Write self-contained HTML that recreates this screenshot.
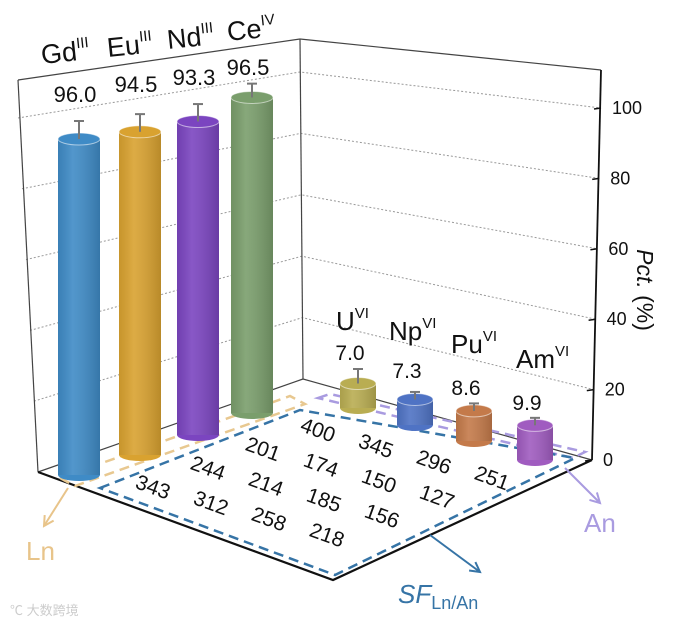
<!DOCTYPE html>
<html><head><meta charset="utf-8">
<style>
html,body{margin:0;padding:0;background:#fff;}
svg{display:block;font-family:"Liberation Sans",Arial,sans-serif;}
</style></head>
<body>
<svg id="chart" width="676" height="628" viewBox="0 0 676 628" xmlns="http://www.w3.org/2000/svg">
<defs>
<linearGradient id="shade" x1="0" x2="1" y1="0" y2="0">
<stop offset="0" stop-color="#000" stop-opacity="0.08"/>
<stop offset="0.35" stop-color="#fff" stop-opacity="0.10"/>
<stop offset="1" stop-color="#000" stop-opacity="0.15"/>
</linearGradient>
</defs>
<g id="walls"></g>
<g id="floor"></g>
<g id="bars"></g>
<g id="labels"></g>
</svg>
<script>
const lnNames = ["Gd","Eu","Nd","Ce"];
const lnOx = ["III","III","III","IV"];
const lnValues = [96.0, 94.5, 93.3, 96.5];
const lnErrors = [4, 4, 4, 3];
const anNames = ["U","Np","Pu","Am"];
const anOx = ["VI","VI","VI","VI"];
const anValues = [7.0, 7.3, 8.6, 9.9];
const anErrors = [3, 1, 1, 1];
const sfValues = [
  [400, 345, 296, 251],
  [201, 174, 150, 127],
  [244, 214, 185, 156],
  [343, 312, 258, 218]
];
const yTicks = [0, 20, 40, 60, 80, 100];

const NS = "http://www.w3.org/2000/svg";
function mk(tag, attrs, parent){ const e=document.createElementNS(NS,tag); for(const k in attrs) e.setAttribute(k,attrs[k]); parent.appendChild(e); return e; }

const leftEdge = v => ({x: 38 - (20*v/100), y: 472 - 3.54*v});
const backEdge = v => ({x: 303 - 3*v/100, y: 379 - 3.07*v});
const rightEdge = v => ({x: 592 + 9*v/100, y: 460 - 3.52*v});

const walls = document.getElementById('walls');
[20,40,60,80,100].forEach(v=>{
  const a=leftEdge(v), b=backEdge(v), c=rightEdge(v);
  const l=mk('polyline',{points:`${a.x},${a.y} ${b.x},${b.y} ${c.x},${c.y}`,fill:'none',stroke:'#999','stroke-width':1,'stroke-dasharray':'2,2'},walls);
  
  
});
const frame = [[18,80,38,472],[18,80,300,39],[300,39,303,379],[300,39,601,70],[38,472,303,379],[303,379,592,460]];
frame.forEach(f=>{ mk('line',{x1:f[0],y1:f[1],x2:f[2],y2:f[3],stroke:'#444','stroke-width':1.2},walls); });
const yAxis=mk('line',{x1:601,y1:70,x2:592,y2:460,stroke:'#111','stroke-width':1.8},walls);


mk('polyline',{points:'38,472 333,580 592,460',fill:'none',stroke:'#111','stroke-width':2.2},walls);
yTicks.forEach(v=>{
  const p=rightEdge(v);
  mk('line',{x1:p.x-7,y1:p.y+1,x2:p.x,y2:p.y,stroke:'#111','stroke-width':1.5},walls);
  const t=mk('text',{x:p.x+11,y:p.y+6,'font-size':18,fill:'#111'},walls);
  t.textContent=v;
  
  
});
const yt=mk('text',{transform:'translate(637,290) rotate(90)','font-size':23,'text-anchor':'middle',fill:'#111'},walls);
yt.innerHTML='<tspan font-style="italic">Pct.</tspan> (%)';



const floor=document.getElementById('floor');
mk('polygon',{points:'60,478 290,396 305,404 75,486',fill:'none',stroke:'#e8c890','stroke-width':2.5,'stroke-dasharray':'10,6'},floor);
mk('polygon',{points:'318,398 330,394 585,452 573,458',fill:'none',stroke:'#a99be0','stroke-width':2.5,'stroke-dasharray':'10,6'},floor);
mk('polygon',{points:'100,488 300,410 575,458 335,575',fill:'none',stroke:'#3674a6','stroke-width':2.5,'stroke-dasharray':'10,6'},floor);
function arrow(x1,y1,x2,y2,col,name){
  const g=mk('g',{},floor);
  
  
  mk('line',{x1,y1,x2,y2,stroke:col,'stroke-width':2},g);
  const a=Math.atan2(y2-y1,x2-x1), s=11;
  const p1=[x2-s*Math.cos(a-0.5),y2-s*Math.sin(a-0.5)], p2=[x2-s*Math.cos(a+0.5),y2-s*Math.sin(a+0.5)];
  mk('polyline',{points:`${p1} ${x2},${y2} ${p2}`,fill:'none',stroke:col,'stroke-width':2},g);
}
arrow(68,488,44,526,'#e8c48a','ln-arrow');
arrow(565,468,600,503,'#a99be0','an-arrow');
arrow(430,535,480,572,'#3674a6','sf-arrow');
const lnL=mk('text',{x:26,y:560,'font-size':26,fill:'#e8c48a'},floor); lnL.textContent='Ln';
 
const anL=mk('text',{x:584,y:532,'font-size':26,fill:'#a99be0'},floor); anL.textContent='An';
 
const sfL=mk('text',{x:398,y:603,'font-size':26,fill:'#3674a6'},floor);
sfL.innerHTML='<tspan font-style="italic">SF</tspan><tspan font-size="18" dy="6">Ln/An</tspan>';
 
const sfOrigin={x:318,y:430}, colStep={x:58,y:16}, rowStep={x:-55,y:19};
sfValues.forEach((row,r)=>row.forEach((v,c)=>{
  const x=sfOrigin.x+c*colStep.x+r*rowStep.x, y=sfOrigin.y+c*colStep.y+r*rowStep.y;
  const t=mk('text',{x,y:y+7,'font-size':21,'text-anchor':'middle',fill:'#111',transform:`rotate(20 ${x} ${y})`},floor);
  t.textContent=v;
  
  
}));

const bars=document.getElementById('bars');
function cyl(cx,base,rx,ry,k,v,err,col,name){
  const g=mk('g',{},bars);
  
  
  const top=base-v*k;
  mk('rect',{x:cx-rx,y:top,width:2*rx,height:base-top,fill:col},g);
  mk('ellipse',{cx,cy:base,rx,ry,fill:col},g);
  mk('rect',{x:cx-rx,y:top,width:2*rx,height:base-top,fill:'url(#shade)'},g);
  mk('ellipse',{cx,cy:top,rx,ry,fill:col,stroke:'#fff','stroke-opacity':0.55,'stroke-width':1},g);
  const et=top-err*k-4;
  mk('line',{x1:cx,y1:top,x2:cx,y2:et,stroke:'#777','stroke-width':2},g);
  mk('line',{x1:cx-5,y1:et,x2:cx+5,y2:et,stroke:'#777','stroke-width':2},g);
  return top;
}
const lnCols=['#3f8bc6','#d9a230','#7b45c0','#7a9e6c'];
const lnCx=[79,140,198,252], lnBase=[475,455,435,413], lnK=[3.5,3.42,3.36,3.27];
lnValues.forEach((v,i)=>cyl(lnCx[i],lnBase[i],21,6,lnK[i],v,lnErrors[i],lnCols[i],'bar-'+lnNames[i].toLowerCase()));
const anCols=['#b9ad52','#4f73c4','#c47a4a','#a05cc0'];
const anCx=[358,415,474,535], anBase=[408,425,441,460], anK=[3.5,3.5,3.5,3.5];
anValues.forEach((v,i)=>cyl(anCx[i],anBase[i],18,6,anK[i],v,anErrors[i],anCols[i],'bar-'+anNames[i].toLowerCase()));

const lab=document.getElementById('labels');
const lnLabelX=[42,108,168,228], lnLabelY=[64,57,49,41];
lnNames.forEach((n,i)=>{
  const t=mk('text',{x:lnLabelX[i],y:lnLabelY[i],'font-size':27,fill:'#111',transform:`rotate(-6 ${lnLabelX[i]} ${lnLabelY[i]})`},lab);
  t.innerHTML=n+'<tspan font-size="15" dy="-12">'+lnOx[i]+'</tspan>';
  
  
});
const lnValY=[102,92,85,75];
lnValues.forEach((v,i)=>{
  const t=mk('text',{x:lnCx[i]-4,y:lnValY[i],'font-size':22,'text-anchor':'middle',fill:'#111'},lab);
  t.textContent=v.toFixed(1);
  
  
});
const anLabelX=[336,389,451,516], anLabelY=[330,340,353,368];
anNames.forEach((n,i)=>{
  const t=mk('text',{x:anLabelX[i],y:anLabelY[i],'font-size':26,fill:'#111'},lab);
  t.innerHTML=n+'<tspan font-size="15" dy="-12">'+anOx[i]+'</tspan>';
  
  
});
const anValY=[360,378,395,410];
anValues.forEach((v,i)=>{
  const t=mk('text',{x:anCx[i]-8,y:anValY[i],'font-size':21,'text-anchor':'middle',fill:'#111'},lab);
  t.textContent=v.toFixed(1);
  
  
});
const wm=mk('text',{x:10,y:615,'font-size':13,fill:'#ccc',"font-family":'"Liberation Sans","Noto Sans CJK SC",sans-serif'},lab);
wm.textContent='℃ 大数跨境';


</script>
</body></html>
